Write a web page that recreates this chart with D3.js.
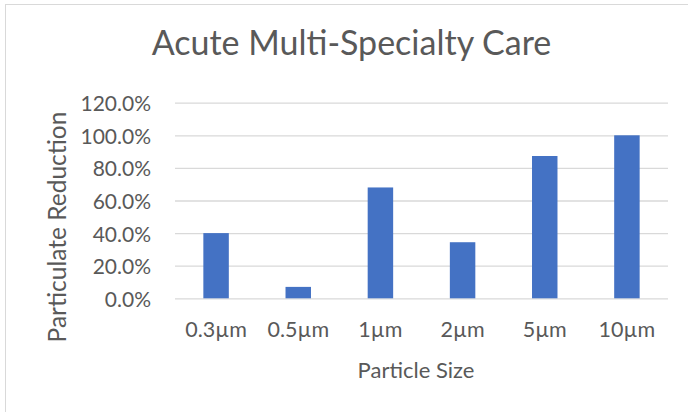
<!DOCTYPE html>
<html>
<head>
<meta charset="utf-8">
<script src="https://cdn.jsdelivr.net/npm/d3@7"></script>
<style>
  html, body { margin: 0; padding: 0; background: #fff; }
  svg { display: block; }
  text { font-family: Lato, "Open Sans", sans-serif; fill: #595959; }
</style>
</head>
<body>
<svg id="chart" width="688" height="412"></svg>
<script>
// Particle sizes measured and the share of particulates removed for each
const categories = ["0.3µm", "0.5µm", "1µm", "2µm", "5µm", "10µm"];
const reduction = [0.40, 0.07, 0.68, 0.344, 0.873, 1.00];
const yTicks = [0, 0.2, 0.4, 0.6, 0.8, 1.0, 1.2];

const titleText = "Acute Multi-Specialty Care";
const xTitle = "Particle Size";
const yTitle = "Particulate Reduction";

const svg = d3.select("#chart");
const W = 688, H = 412;
const plot = { left: 175, right: 668, top: 102.7, bottom: 298.3 };
const font = "Lato, 'Open Sans', sans-serif";

// Chart frame
svg.append("rect")
  .attr("x", 5.5).attr("y", 4.5)
  .attr("width", W + 10).attr("height", H + 10)
  .attr("fill", "#fff").attr("stroke", "#d9d9d9").attr("stroke-width", 1);

const x = d3.scaleBand()
  .domain(categories)
  .range([plot.left, plot.right])
  .paddingInner(0.69)
  .paddingOuter(0.345);

const y = d3.scaleLinear()
  .domain([0, 1.2])
  .range([plot.bottom, plot.top]);

// Horizontal gridlines and y tick labels
const yAxis = d3.axisLeft(y)
  .tickValues(yTicks)
  .tickFormat(d3.format(".1%"))
  .tickSize(-(plot.right - plot.left))
  .tickPadding(24);

const gy = svg.append("g")
  .attr("transform", `translate(${plot.left},0)`)
  .call(yAxis);
gy.select(".domain").remove();
gy.selectAll(".tick line").attr("stroke", "#d9d9d9").attr("stroke-width", 1.3);
gy.selectAll(".tick text")
  .attr("dy", "0.38em")
  .attr("font-size", 21)
  .attr("fill", "#595959")
  .attr("font-family", font);

// Bars
svg.append("g")
  .selectAll("rect")
  .data(categories.map((c, i) => ({ c, v: reduction[i] })))
  .join("rect")
  .attr("x", d => x(d.c))
  .attr("y", d => y(d.v))
  .attr("width", x.bandwidth())
  .attr("height", d => y(0) - y(d.v))
  .attr("fill", "#4472C4");

// Category labels
const xAxis = d3.axisBottom(x).tickSize(0).tickPadding(0);
const gx = svg.append("g")
  .attr("transform", `translate(0,${plot.bottom})`)
  .call(xAxis);
gx.select(".domain").remove();
gx.selectAll(".tick text")
  .attr("y", 38.5)
  .attr("dy", 0)
  .attr("font-size", 21.5)
  .attr("fill", "#595959")
  .attr("font-family", font);

// Titles
svg.append("text")
  .attr("x", 351.5).attr("y", 55)
  .attr("text-anchor", "middle")
  .attr("font-size", 34)
  .text(titleText);

svg.append("text")
  .attr("x", 416).attr("y", 378)
  .attr("text-anchor", "middle")
  .attr("font-size", 22)
  .text(xTitle);

svg.append("text")
  .attr("transform", "translate(66,227) rotate(-90)")
  .attr("text-anchor", "middle")
  .attr("font-size", 24.5)
  .text(yTitle);
</script>
</body>
</html>
